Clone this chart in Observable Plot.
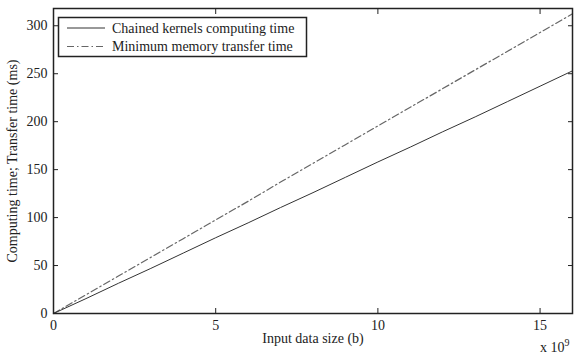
<!DOCTYPE html>
<html><head><meta charset="utf-8">
<script src="https://cdn.jsdelivr.net/npm/d3@7"></script>
<script src="https://cdn.jsdelivr.net/npm/@observablehq/plot@0.6"></script>
<style>
body{margin:0;background:#fff;font-family:"Liberation Serif","Liberation Sans",sans-serif;}
#wrap{position:relative;width:574px;height:356px;overflow:hidden;}
#legend{position:absolute;left:0;top:0;}
#exp{position:absolute;left:540px;top:337px;font-size:14px;color:#222;}
#exp sup{font-size:10px;}
</style>
</head><body>
<div id="wrap"><div id="chart"></div>
<svg id="legend" width="574" height="80"></svg>
<div id="exp">x 10<sup>9</sup></div>
</div>
<script>
// x in units of 1e9 bytes
const inputSize = [0, 1, 2, 3, 4, 5, 6, 7, 8, 9, 10, 11, 12, 13, 14, 15, 16];
const computingTime = [0, 15.5, 31.5, 47, 63, 79, 94.5, 110.5, 126, 142, 158, 173.5, 189.5, 205, 221, 237, 253];
const transferTime = [0, 19.5, 39, 58.5, 78, 97.5, 117, 137, 156.5, 176, 195.5, 215, 234.5, 254, 273.5, 293, 312.5];
const xTicks = [0, 5, 10, 15];
const yTicks = [0, 50, 100, 150, 200, 250, 300];
const seriesNames = ["Chained kernels computing time", "Minimum memory transfer time"];

const data = inputSize.map((x, i) => ({x, computing: computingTime[i], transfer: transferTime[i]}));
const font = '"Liberation Serif","Liberation Sans",sans-serif';
const fs = 14;
const blank = () => "";

const chart = Plot.plot({
  width: 574, height: 356,
  marginLeft: 53, marginRight: 2, marginTop: 8, marginBottom: 43,
  style: {fontFamily: font, fontSize: fs + "px", color: "#222", background: "white"},
  x: {domain: [0, 16]},
  y: {domain: [0, 318]},
  marks: [
    Plot.line(data, {x: "x", y: "transfer", stroke: "#666", strokeWidth: 1.2, strokeDasharray: "7,3,1.5,3"}),
    Plot.line(data, {x: "x", y: "computing", stroke: "#333", strokeWidth: 1}),
    Plot.axisX(xTicks, {anchor: "bottom", tickSize: 0, tickPadding: 7, label: "Input data size (b)", labelAnchor: "center", labelOffset: 29, labelArrow: "none"}),
    Plot.axisX(xTicks, {anchor: "bottom", tickSize: -5, tickFormat: blank, label: null}),
    Plot.axisX(xTicks, {anchor: "top", tickSize: -5, tickFormat: blank, label: null}),
    Plot.axisY(yTicks, {anchor: "left", tickSize: 0, tickPadding: 6, label: "Computing time; Transfer time (ms)", labelAnchor: "center", labelOffset: 46, labelArrow: "none"}),
    Plot.axisY(yTicks, {anchor: "left", tickSize: -5, tickFormat: blank, label: null}),
    Plot.axisY(yTicks, {anchor: "right", tickSize: -5, tickFormat: blank, label: null}),
    Plot.frame({stroke: "#222", strokeWidth: 1.5})
  ]
});
document.getElementById("chart").append(chart);

// legend
const lg = d3.select("#legend");
lg.append("rect").attr("x", 58.5).attr("y", 17.5).attr("width", 248).attr("height", 39)
  .attr("fill", "white").attr("stroke", "#222").attr("stroke-width", 1.5);
const styles = [{stroke: "#333", dash: null}, {stroke: "#666", dash: "7,3,1.5,3"}];
seriesNames.forEach((name, i) => {
  const y = 28 + i * 18.5;
  lg.append("line").attr("x1", 67).attr("x2", 105).attr("y1", y).attr("y2", y)
    .attr("stroke", styles[i].stroke).attr("stroke-width", i ? 1.2 : 1)
    .attr("stroke-dasharray", styles[i].dash);
  lg.append("text").attr("x", 112).attr("y", y).attr("dy", "0.35em")
    .attr("font-family", font).attr("font-size", fs).attr("fill", "#222").text(name);
});
</script>
</body></html>
